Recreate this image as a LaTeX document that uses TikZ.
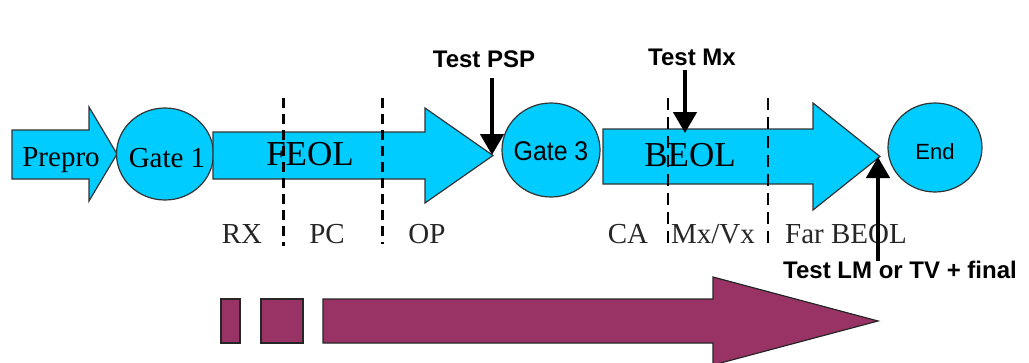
\documentclass[tikz,border=0pt]{standalone}
\usepackage{fontspec}
\usepackage{graphicx}
\setmainfont{Liberation Serif}
\setsansfont{Liberation Sans}
\usetikzlibrary{arrows.meta,shapes.geometric}
\definecolor{flowcyan}{RGB}{0,204,255}
\definecolor{plum}{RGB}{153,51,102}
\newcommand\gatetext[2]{\makebox[0pt]{\raisebox{#1}[0pt][0pt]{#2}}}
\begin{document}
\begin{tikzpicture}[x=1pt,y=-1pt,
  cyanshape/.style={fill=flowcyan,draw=black!80,line width=1.2pt,line join=miter},
  purpleshape/.style={fill=plum,draw=black!85,line width=1.2pt},
  gate/.style={ellipse,cyanshape,inner sep=0pt},
  bigword/.style={font=\fontsize{35}{38}\selectfont,inner sep=0pt,anchor=base},
  seriftext/.style={font=\fontsize{29}{31}\selectfont,inner sep=0pt},
  steplabel/.style={font=\fontsize{29}{31}\selectfont,text=black!85,inner sep=0pt,anchor=base},
  testlabel/.style={font=\sffamily\bfseries\fontsize{24}{26}\selectfont,inner sep=0pt,anchor=base},
  testarrow/.style={line width=4.5pt,-{Triangle[width=23pt,length=21pt]}},
  bigdash/.style={line width=3pt,dash pattern=on 10pt off 6pt},
  smalldash/.style={line width=1.5pt,dash pattern=on 12pt off 7pt},
]
\useasboundingbox (0,0) rectangle (1029,362);
\fill[white] (0,0) rectangle (1029,362);

% Prepro arrow
\draw[cyanshape] (12,130) -- (89,130) -- (89,107) -- (117,154) -- (89,201) -- (89,179) -- (12,179) -- cycle;
\node[seriftext,anchor=base] (prepro) at (61,166) {Prepro};

% gates
\node[gate,minimum width=97pt,minimum height=92pt,font=\fontsize{29}{31}\selectfont] (g1) at (165,154) {\gatetext{-13pt}{\hspace{4pt}Gate 1}};
\node[gate,minimum width=98pt,minimum height=94pt,font=\sffamily\fontsize{27}{29}\selectfont] (g3) at (551,150) {\gatetext{-10pt}{\scalebox{0.92}[1]{Gate 3}}};
\node[gate,minimum width=94pt,minimum height=89pt,font=\sffamily\fontsize{22}{24}\selectfont] (end) at (935,147.5) {\gatetext{-11.5pt}{End}};

% FEOL arrow
\draw[cyanshape] (213,132) -- (425,132) -- (425,108) -- (493,155.5) -- (425,203) -- (425,179) -- (213,179) -- cycle;
\coordinate (feoltip) at (492,155);
\node[bigword] (feol) at (310,165) {FEOL};

% BEOL arrow
\draw[cyanshape] (603,129) -- (813,129) -- (813,103) -- (880,156.5) -- (813,210) -- (813,184) -- (603,184) -- cycle;
\coordinate (beoltop) at (685,133);
\coordinate (beoltip) at (878,157);
\node[bigword] (beol) at (690,166) {BEOL};

% dashed separators
\draw[bigdash] (283,98) -- (283,246);
\draw[bigdash] (382,98) -- (382,244);
\draw[smalldash] (668,98) -- (668,245);
\draw[smalldash] (768,98) -- (768,245);

% step labels
\node[steplabel] (rx) at (242,243) {RX};
\node[steplabel] (pc) at (327,243) {PC};
\node[steplabel] (op) at (427,243) {OP};
\node[steplabel] (ca) at (628,243) {CA};
\node[steplabel] (mxvx) at (713,243) {Mx/Vx};
\node[steplabel] (far) at (846,243) {Far BEOL};

% test labels and arrows
\node[testlabel] (psp) at (484,67) {Test PSP};
\node[testlabel] (mx) at (692,65) {Test Mx};
\node[testlabel] (lm) at (900,278) {Test LM or TV + final};
\coordinate (pspstart) at (492,78);
\coordinate (mxstart) at (685,70);
\coordinate (lmstart) at (878,261);
\draw[testarrow] (pspstart) -- (feoltip);
\draw[testarrow] (mxstart) -- (beoltop);
\draw[testarrow] (lmstart) -- (beoltip);

% purple timeline
\begin{scope}
\clip (0,0) rectangle (1029,362);
\draw[purpleshape] (221,299) rectangle (240,343);
\draw[purpleshape] (261,299) rectangle (303,343);
\draw[purpleshape] (323,299) -- (713,299) -- (713,277) -- (878,321) -- (713,365) -- (713,343) -- (323,343) -- cycle;
\end{scope}
\end{tikzpicture}
\end{document}
